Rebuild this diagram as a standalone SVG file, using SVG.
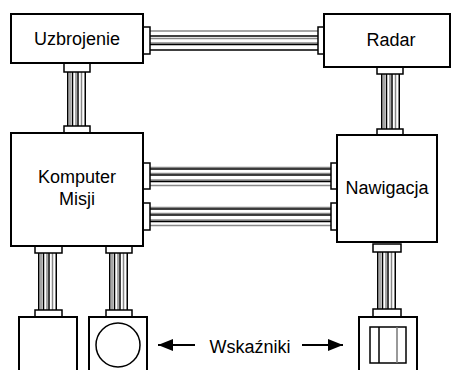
<svg xmlns="http://www.w3.org/2000/svg" width="451" height="370" viewBox="0 0 451 370">
<style>
.box{fill:#fff;stroke:#000;stroke-width:2}
.fl{fill:#fff;stroke:#000;stroke-width:1.5}
.wb{stroke:#000;stroke-width:1.5}
.wg{stroke:#888;stroke-width:1.5}
text{font-family:"Liberation Sans",Arial,sans-serif;font-size:18px;fill:#000;text-anchor:middle}
</style>
<defs>
<marker id="ah" markerWidth="16" markerHeight="13" refX="15" refY="6.5" orient="auto" markerUnits="userSpaceOnUse">
<path d="M0,0.5 L15,6.5 L0,12.5 Z" fill="#000"/>
</marker>
</defs>
<rect width="451" height="370" fill="#fff"/>
<g id="connectors">
<g transform="translate(67,72)">
<line class="wb" x1="0.75" y1="0" x2="0.75" y2="54"/><line class="wg" x1="3" y1="0" x2="3" y2="54"/>
<line class="wb" x1="5.5" y1="0" x2="5.5" y2="54"/><line class="wg" x1="9" y1="0" x2="9" y2="54"/>
<line class="wb" x1="11" y1="0" x2="11" y2="54"/><line class="wg" x1="14.5" y1="0" x2="14.5" y2="54"/>
<line class="wb" x1="18.25" y1="0" x2="18.25" y2="54"/>
</g>
<rect class="fl" x="64" y="63" width="26" height="9"/>
<rect class="fl" x="64" y="126" width="26" height="7"/>
<g transform="translate(381,74)">
<line class="wb" x1="0.75" y1="0" x2="0.75" y2="55"/><line class="wg" x1="3" y1="0" x2="3" y2="55"/>
<line class="wb" x1="5.5" y1="0" x2="5.5" y2="55"/><line class="wg" x1="9" y1="0" x2="9" y2="55"/>
<line class="wb" x1="11" y1="0" x2="11" y2="55"/><line class="wg" x1="14.5" y1="0" x2="14.5" y2="55"/>
<line class="wb" x1="18.25" y1="0" x2="18.25" y2="55"/>
</g>
<rect class="fl" x="377" y="67" width="26" height="7"/>
<rect class="fl" x="377" y="129" width="26" height="6"/>
<g transform="translate(38,253)">
<line class="wb" x1="0.75" y1="0" x2="0.75" y2="57"/><line class="wg" x1="3" y1="0" x2="3" y2="57"/>
<line class="wb" x1="5.5" y1="0" x2="5.5" y2="57"/><line class="wg" x1="9" y1="0" x2="9" y2="57"/>
<line class="wb" x1="11" y1="0" x2="11" y2="57"/><line class="wg" x1="14.5" y1="0" x2="14.5" y2="57"/>
<line class="wb" x1="18.25" y1="0" x2="18.25" y2="57"/>
</g>
<rect class="fl" x="35" y="246" width="27" height="7"/>
<rect class="fl" x="35" y="310" width="27" height="7"/>
<g transform="translate(109,253)">
<line class="wb" x1="0.75" y1="0" x2="0.75" y2="57"/><line class="wg" x1="3" y1="0" x2="3" y2="57"/>
<line class="wb" x1="5.5" y1="0" x2="5.5" y2="57"/><line class="wg" x1="9" y1="0" x2="9" y2="57"/>
<line class="wb" x1="11" y1="0" x2="11" y2="57"/><line class="wg" x1="14.5" y1="0" x2="14.5" y2="57"/>
<line class="wb" x1="18.25" y1="0" x2="18.25" y2="57"/>
</g>
<rect class="fl" x="106" y="246" width="26" height="7"/>
<rect class="fl" x="106" y="310" width="26" height="7"/>
<g transform="translate(377,252)">
<line class="wb" x1="0.75" y1="0" x2="0.75" y2="57"/><line class="wg" x1="3" y1="0" x2="3" y2="57"/>
<line class="wb" x1="5.5" y1="0" x2="5.5" y2="57"/><line class="wg" x1="9" y1="0" x2="9" y2="57"/>
<line class="wb" x1="11" y1="0" x2="11" y2="57"/><line class="wg" x1="14.5" y1="0" x2="14.5" y2="57"/>
<line class="wb" x1="18.25" y1="0" x2="18.25" y2="57"/>
</g>
<rect class="fl" x="373" y="244" width="28" height="8"/>
<rect class="fl" x="373" y="309" width="28" height="8"/>
<g transform="translate(150,30)">
<line class="wg" x1="0" y1="1" x2="168" y2="1"/><line class="wb" x1="0" y1="6" x2="168" y2="6"/>
<line class="wg" x1="0" y1="8.5" x2="168" y2="8.5"/><line class="wg" x1="0" y1="13" x2="168" y2="13"/>
<line class="wb" x1="0" y1="14.5" x2="168" y2="14.5"/><line class="wb" x1="0" y1="20" x2="168" y2="20"/>
</g>
<rect class="fl" x="143" y="27" width="7" height="27"/>
<rect class="fl" x="318" y="27" width="6" height="27"/>
<g transform="translate(150,167)">
<line class="wg" x1="0" y1="0.5" x2="181" y2="0.5"/><line class="wb" x1="0" y1="2" x2="181" y2="2"/>
<line class="wg" x1="0" y1="6.5" x2="181" y2="6.5"/><line class="wb" x1="0" y1="8" x2="181" y2="8"/>
<line class="wg" x1="0" y1="13" x2="181" y2="13"/><line class="wb" x1="0" y1="14.5" x2="181" y2="14.5"/>
<line class="wg" x1="0" y1="18.5" x2="181" y2="18.5"/>
</g>
<rect class="fl" x="143" y="163" width="7" height="26"/>
<rect class="fl" x="331" y="163" width="6" height="26"/>
<g transform="translate(150,207)">
<line class="wg" x1="0" y1="0.5" x2="181" y2="0.5"/><line class="wb" x1="0" y1="2" x2="181" y2="2"/>
<line class="wg" x1="0" y1="6.5" x2="181" y2="6.5"/><line class="wb" x1="0" y1="8" x2="181" y2="8"/>
<line class="wg" x1="0" y1="13" x2="181" y2="13"/><line class="wb" x1="0" y1="14.5" x2="181" y2="14.5"/>
<line class="wg" x1="0" y1="18.5" x2="181" y2="18.5"/>
</g>
<rect class="fl" x="143" y="203" width="7" height="27"/>
<rect class="fl" x="331" y="203" width="6" height="27"/>
<line x1="195" y1="345" x2="158" y2="345" stroke="#000" stroke-width="2" marker-end="url(#ah)"/>
<line x1="302" y1="345" x2="343" y2="345" stroke="#000" stroke-width="2" marker-end="url(#ah)"/>
</g>
<g id="uzbrojenie"><rect class="box" x="11" y="14" width="132" height="49"/><text x="77" y="45">Uzbrojenie</text></g>
<g id="radar"><rect class="box" x="324" y="14" width="126" height="53"/><text x="391" y="46">Radar</text></g>
<g id="komputer"><rect class="box" x="11" y="133" width="132" height="113"/><text x="77" y="183">Komputer</text><text x="77" y="205">Misji</text></g>
<g id="nawigacja"><rect class="box" x="337" y="135" width="100" height="107"/><text x="387" y="194">Nawigacja</text></g>
<g id="wskaznik1"><rect class="box" x="19" y="317" width="58" height="60"/></g>
<g id="wskaznik2"><rect class="box" x="89" y="317" width="58" height="60"/><circle cx="118" cy="345" r="22" fill="none" stroke="#000" stroke-width="1.5"/></g>
<g id="wskaznik3"><rect class="box" x="359" y="317" width="58" height="60"/><rect x="370" y="327" width="36" height="36" fill="none" stroke="#000" stroke-width="1.5"/><line x1="379" y1="327" x2="379" y2="363" stroke="#000" stroke-width="1.5"/><line x1="397" y1="327" x2="397" y2="363" stroke="#777" stroke-width="1.5"/></g>
<g id="label"><text x="250" y="353">Wskaźniki</text></g>
</svg>
